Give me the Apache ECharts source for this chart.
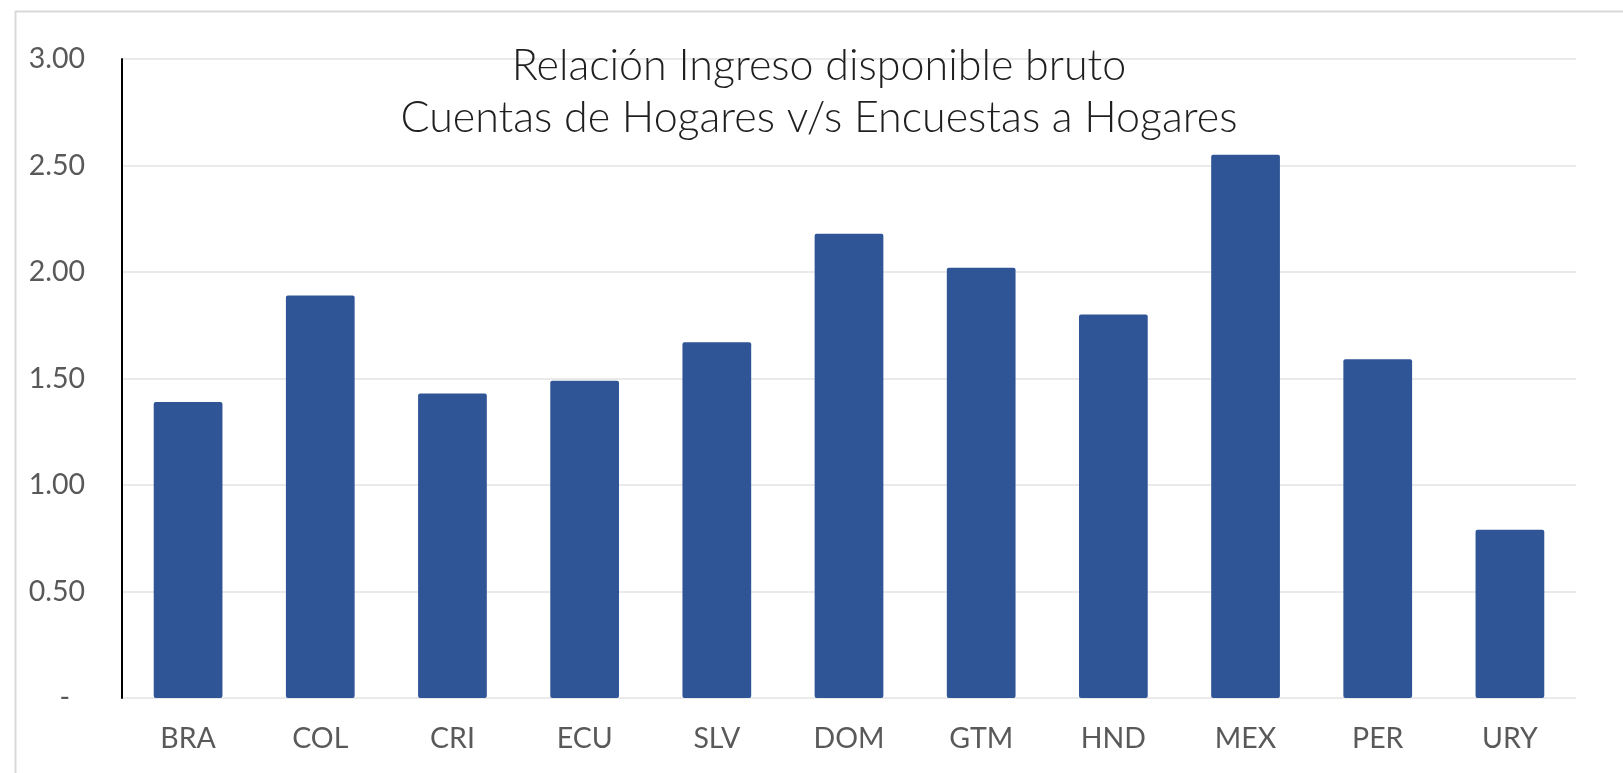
<!DOCTYPE html>
<html>
<head>
<meta charset="utf-8">
<script src="https://cdn.jsdelivr.net/npm/echarts@6/dist/echarts.min.js"></script>
<style>
html,body{margin:0;padding:0;background:#fff;}
#chart{width:1623px;height:773px;}
</style>
</head>
<body>
<div id="chart"></div>
<script>
const categories = ['BRA','COL','CRI','ECU','SLV','DOM','GTM','HND','MEX','PER','URY'];
const ratioValues = [1.39, 1.89, 1.43, 1.49, 1.67, 2.18, 2.02, 1.80, 2.55, 1.59, 0.79];
const titleLines = ['Relación Ingreso disponible bruto', 'Cuentas de Hogares v/s Encuestas a Hogares'];
const yMin = 0, yMax = 3, yInterval = 0.5;

const chart = echarts.init(document.getElementById('chart'));
chart.setOption({
  backgroundColor: '#ffffff',
  animation: false,
  graphic: [{
    type: 'rect', left: 13, top: 9,
    shape: { width: 1700, height: 900 },
    style: { fill: 'none', stroke: '#D9D9D9', lineWidth: 2 },
    z: 0
  }],
  title: {
    text: titleLines.join('\n'),
    left: 814, top: 35, textAlign: 'center',
    textStyle: { fontFamily: 'Lato', fontWeight: 300, fontSize: 43, color: '#1f1f1f', lineHeight: 52 }
  },
  grid: { left: 122, right: 47, top: 59, bottom: 75, containLabel: false },
  xAxis: {
    type: 'category', data: categories,
    axisLine: { show: false }, axisTick: { show: false },
    axisLabel: { color: '#595959', fontFamily: 'Lato', fontSize: 28.5, margin: 26 }
  },
  yAxis: {
    type: 'value', min: yMin, max: yMax, interval: yInterval,
    axisLine: { show: true, lineStyle: { color: '#000000', width: 2 } },
    axisTick: { show: false },
    splitLine: { lineStyle: { color: '#EAEAEA', width: 2 } },
    axisLabel: {
      color: '#595959', fontFamily: 'Lato', fontSize: 28.5, margin: 37,
      formatter: function (v) { return v === 0 ? '{z|-}' : v.toFixed(2); },
      rich: { z: { color: '#595959', fontFamily: 'Lato', fontSize: 28.5, padding: [0, 15, 0, 0] } }
    }
  },
  series: [{
    type: 'bar', data: ratioValues, barWidth: '52%',
    itemStyle: { color: '#2F5597', borderRadius: 2 }
  }]
});
</script>
</body>
</html>
